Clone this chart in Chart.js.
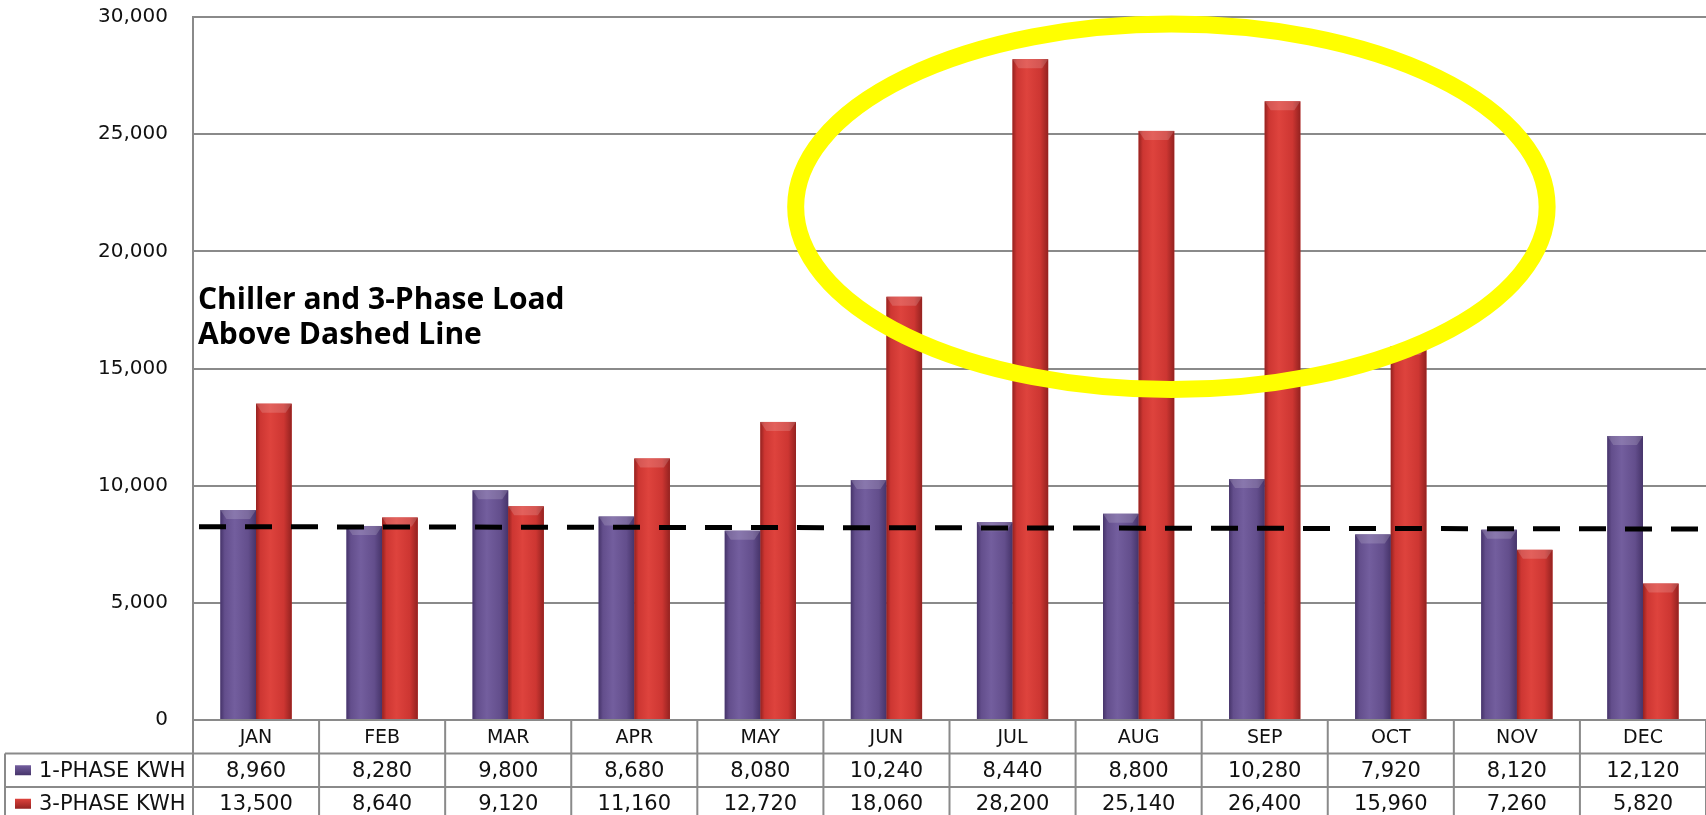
<!DOCTYPE html>
<html lang="en">
<head>
  <meta charset="UTF-8" />
  <title>Monthly KWH – 1-Phase vs 3-Phase</title>
  <script src="https://cdn.jsdelivr.net/npm/chart.js"></script>
  <style>
    html, body { margin: 0; padding: 0; background: #fff; overflow: hidden; }
  </style>
</head>
<body>
  <canvas id="kwhChart" width="1706" height="815"></canvas>

  <script>
    // values
    const months = ["JAN", "FEB", "MAR", "APR", "MAY", "JUN", "JUL", "AUG", "SEP", "OCT", "NOV", "DEC"];
    const onePhase = [8960, 8280, 9800, 8680, 8080, 10240, 8440, 8800, 10280, 7920, 8120, 12120];
    const threePhase = [13500, 8640, 9120, 11160, 12720, 18060, 28200, 25140, 26400, 15960, 7260, 5820];
    const seriesNames = ["1-PHASE KWH", "3-PHASE KWH"];
    const yMax = 30000;
    const yStep = 5000;

    // dashed baseline (kWh at left edge, kWh at right edge)
    const baseline = [8250, 8150];
    const noteLines = ["Chiller and 3-Phase Load", "Above Dashed Line"];
    // yellow ring, in category index / kWh units
    const ring = { x: 7.26, y: 21900, rx: 2.98, ry: 7800 };

    const purple = { dark: "#46346a", mid: "#634e8c", light: "#735e9e" };
    const red = { dark: "#942220", mid: "#cd3632", light: "#de433d" };
    const gridColor = "#8a8a8a";
    const fmt = v => v.toLocaleString("en-US");

    // 3D-ish look for the bars: side shading plus a bevelled top
    const barSheen = {
      id: "barSheen",
      afterDatasetsDraw(chart) {
        const ctx = chart.ctx;
        [purple, red].forEach((pal, di) => {
          chart.getDatasetMeta(di).data.forEach(el => {
            const left = el.x - el.width / 2, right = el.x + el.width / 2;
            const top = Math.min(el.y, el.base), bottom = Math.max(el.y, el.base);
            const g = ctx.createLinearGradient(left, 0, right, 0);
            g.addColorStop(0, pal.dark);
            g.addColorStop(0.12, pal.mid);
            g.addColorStop(0.4, pal.light);
            g.addColorStop(0.78, pal.mid);
            g.addColorStop(1, pal.dark);
            ctx.save();
            ctx.fillStyle = g;
            ctx.fillRect(left, top, right - left, bottom - top);
            ctx.fillStyle = "rgba(255,255,255,0.16)";
            ctx.beginPath();
            ctx.moveTo(left, top);
            ctx.lineTo(right, top);
            ctx.lineTo(right - 6, top + 9);
            ctx.lineTo(left + 6, top + 9);
            ctx.closePath();
            ctx.fill();
            ctx.restore();
          });
        });
      }
    };

    // dashed line, note, data table and the highlight ring
    const extras = {
      id: "extras",
      afterDraw(chart) {
        const ctx = chart.ctx;
        const xs = chart.scales.x, ys = chart.scales.y;
        const area = chart.chartArea;
        const colW = xs.getPixelForValue(1) - xs.getPixelForValue(0);

        ctx.save();

        // dashed line
        ctx.strokeStyle = "#000";
        ctx.lineWidth = 5;
        ctx.setLineDash([27, 19]);
        ctx.beginPath();
        ctx.moveTo(area.left + 6, ys.getPixelForValue(baseline[0]));
        ctx.lineTo(area.right, ys.getPixelForValue(baseline[1]));
        ctx.stroke();
        ctx.setLineDash([]);

        // note
        ctx.fillStyle = "#000";
        ctx.font = "bold 30px 'Open Sans'";
        ctx.textAlign = "left";
        ctx.textBaseline = "alphabetic";
        const noteY = ys.getPixelForValue(17550);
        noteLines.forEach((t, i) => ctx.fillText(t, area.left + 5, noteY + i * 35));

        // data table
        const rowH = 33.5;
        const rows = [area.bottom, area.bottom + rowH, area.bottom + rowH * 2, area.bottom + rowH * 3];
        const tableLeft = 5;
        ctx.strokeStyle = gridColor;
        ctx.lineWidth = 2;
        ctx.beginPath();
        [1, 2, 3].forEach(r => {
          ctx.moveTo(tableLeft, rows[r]);
          ctx.lineTo(area.right, rows[r]);
        });
        for (let i = 0; i <= months.length; i++) {
          const x = xs.getPixelForValue(i) - colW / 2;
          ctx.moveTo(x, area.bottom);
          ctx.lineTo(x, chart.height);
        }
        ctx.moveTo(tableLeft, rows[1]);
        ctx.lineTo(tableLeft, chart.height);
        ctx.stroke();

        ctx.fillStyle = "#111";
        ctx.textAlign = "center";
        ctx.textBaseline = "middle";
        ctx.font = "19px 'DejaVu Sans'";
        months.forEach((m, i) => ctx.fillText(m, xs.getPixelForValue(i), rows[0] + rowH / 2 + 1));
        ctx.font = "21px 'DejaVu Sans'";
        [onePhase, threePhase].forEach((vals, r) => {
          vals.forEach((v, i) => ctx.fillText(fmt(v), xs.getPixelForValue(i), rows[r + 1] + rowH / 2 + 1));
        });

        ctx.textAlign = "left";
        ctx.font = "21px 'DejaVu Sans'";
        [purple, red].forEach((pal, r) => {
          const cy = rows[r + 1] + rowH / 2;
          const g = ctx.createLinearGradient(0, cy - 5, 0, cy + 5);
          g.addColorStop(0, pal.light);
          g.addColorStop(1, pal.dark);
          ctx.fillStyle = g;
          ctx.fillRect(15, cy - 5, 16, 10);
          ctx.fillStyle = "#111";
          ctx.fillText(seriesNames[r], 39, cy + 1);
        });

        // highlight ring
        const cx = xs.getPixelForValue(ring.x);
        const cy = ys.getPixelForValue(ring.y);
        const rx = ring.rx * colW;
        const ry = ys.getPixelForValue(0) - ys.getPixelForValue(ring.ry);
        ctx.strokeStyle = "#ffff00";
        ctx.lineWidth = 17;
        ctx.beginPath();
        ctx.ellipse(cx, cy, rx, ry, 0, 0, Math.PI * 2);
        ctx.stroke();

        ctx.restore();
      }
    };

    new Chart(document.getElementById("kwhChart"), {
      type: "bar",
      data: {
        labels: months,
        datasets: [
          { label: seriesNames[0], data: onePhase, backgroundColor: purple.mid },
          { label: seriesNames[1], data: threePhase, backgroundColor: red.mid }
        ]
      },
      options: {
        responsive: false,
        animation: false,
        devicePixelRatio: 1,
        layout: { padding: { top: 17, bottom: 95, left: 0, right: 0 } },
        datasets: { bar: { categoryPercentage: 0.565, barPercentage: 1 } },
        plugins: { legend: { display: false }, tooltip: { enabled: false } },
        scales: {
          x: { display: false },
          y: {
            min: 0,
            max: yMax,
            ticks: {
              stepSize: yStep,
              padding: 25,
              color: "#111",
              font: { family: "'DejaVu Sans'", size: 20 },
              callback: v => fmt(v)
            },
            grid: { color: gridColor, lineWidth: 2, drawTicks: false },
            border: { color: gridColor, width: 2 },
            afterFit(scale) {
              scale.width = 193;
              scale.paddingTop = 0;
              scale.paddingBottom = 0;
            }
          }
        }
      },
      plugins: [barSheen, extras]
    });
  </script>
</body>
</html>
